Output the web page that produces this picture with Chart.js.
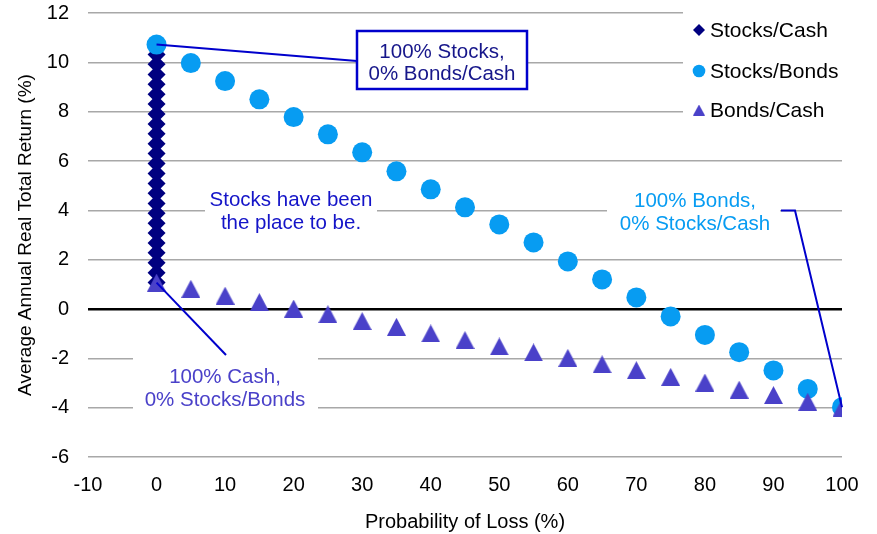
<!DOCTYPE html>
<html>
<head>
<meta charset="utf-8">
<script src="https://cdn.jsdelivr.net/npm/chart.js@4.4.1/dist/chart.umd.min.js"></script>
<style>
  html, body { margin: 0; padding: 0; background: #fff; }
  #wrap { width: 877px; height: 534px; }
</style>
</head>
<body>
<div id="wrap"><canvas id="chart" width="877" height="534"></canvas></div>
<script>
// Probability of loss (%) for each mix in the Stocks/Bonds and Bonds/Cash frontiers
const lossProbability = [0, 5, 10, 15, 20, 25, 30, 35, 40, 45, 50, 55, 60, 65, 70, 75, 80, 85, 90, 95, 100];

// Average annual real total return (%)
const stocksBondsReturn = [10.72, 9.97, 9.24, 8.50, 7.78, 7.08, 6.35, 5.58, 4.85, 4.12, 3.43,
                           2.70, 1.93, 1.20, 0.47, -0.30, -1.05, -1.75, -2.49, -3.24, -3.98];
const bondsCashReturn = [1.07, 0.82, 0.54, 0.28, 0.02, -0.21, -0.49, -0.72, -0.99, -1.26, -1.52,
                         -1.76, -1.98, -2.24, -2.48, -2.75, -2.98, -3.27, -3.49, -3.76, -4.00];

// Stocks/Cash mixes never lost money: every mix sits at 0% probability of loss
const stocksCashLoss = [0, 0, 0, 0, 0, 0, 0, 0, 0, 0, 0, 0, 0, 0, 0, 0, 0, 0, 0, 0, 0, 0, 0, 0, 0];
const stocksCashReturn = [1.07, 1.47, 1.87, 2.28, 2.68, 3.08, 3.48, 3.88, 4.28, 4.69, 5.09, 5.49, 5.90,
                          6.30, 6.70, 7.10, 7.50, 7.91, 8.31, 8.71, 9.11, 9.51, 9.92, 10.32, 10.72];

// Axis ticks
const xTickValues = [-10, 0, 10, 20, 30, 40, 50, 60, 70, 80, 90, 100];
const yTickValues = [-6, -4, -2, 0, 2, 4, 6, 8, 10, 12];

const seriesNames = ['Stocks/Cash', 'Stocks/Bonds', 'Bonds/Cash'];

const FONT = "'Liberation Sans', Arial, sans-serif";
const NAVY = '#000080';
const AZURE = '#079CF2';
const INDIGO = '#4A41C9';
const LEADER = '#0000CC';

// Triangle marker drawn on its own canvas so the glyph is centred on its bounding box
function triangleMarker(w, h, color) {
  const c = document.createElement('canvas');
  c.width = w; c.height = h;
  const g = c.getContext('2d');
  g.fillStyle = color;
  g.beginPath();
  g.moveTo(w / 2, 0);
  g.lineTo(w, h);
  g.lineTo(0, h);
  g.closePath();
  g.fill();
  return c;
}
const bigTriangle = triangleMarker(19, 18, INDIGO);
const smallTriangle = triangleMarker(12, 11, INDIGO);

const toPoints = (xs, ys) => ys.map((y, i) => ({ x: xs[i], y }));

// Legend block in the upper right of the plot
const cornerLegend = {
  id: 'cornerLegend',
  afterDatasetsDraw(chart) {
    const ctx = chart.ctx;
    ctx.save();
    ctx.fillStyle = '#fff';
    ctx.fillRect(683, 0, 194, 132);
    const rows = [30, 71, 110];
    const mx = 699;
    chart.data.datasets.forEach((ds, i) => {
      const y = rows[i];
      ctx.fillStyle = ds.backgroundColor;
      if (i === 0) {
        ctx.beginPath();
        ctx.moveTo(mx, y - 6); ctx.lineTo(mx + 6, y); ctx.lineTo(mx, y + 6); ctx.lineTo(mx - 6, y);
        ctx.closePath(); ctx.fill();
      } else if (i === 1) {
        ctx.beginPath(); ctx.arc(mx, y, 6.3, 0, Math.PI * 2); ctx.fill();
      } else {
        ctx.drawImage(smallTriangle, mx - 6, y - 5.5);
      }
      ctx.fillStyle = '#000';
      ctx.font = `21px ${FONT}`;
      ctx.textAlign = 'left';
      ctx.textBaseline = 'middle';
      ctx.fillText(ds.label, 710, y + 1);
    });
    ctx.restore();
  }
};

// Call-out labels and their leader lines
const callouts = {
  id: 'callouts',
  afterDatasetsDraw(chart) {
    const { ctx, scales: { x, y } } = chart;
    const px = v => x.getPixelForValue(v);
    const py = v => y.getPixelForValue(v);
    const last = lossProbability.length - 1;

    ctx.save();
    ctx.font = `20.5px ${FONT}`;
    ctx.textAlign = 'center';
    ctx.textBaseline = 'middle';

    // white panels that sit over the gridlines
    ctx.fillStyle = '#fff';
    ctx.fillRect(205, 182, 172, 52);
    ctx.fillRect(607, 184, 173, 52);
    ctx.fillRect(133, 352, 185, 62);

    // leader lines
    ctx.strokeStyle = LEADER;
    ctx.lineWidth = 2;
    ctx.beginPath();
    ctx.moveTo(px(lossProbability[0]), py(stocksBondsReturn[0]));
    ctx.lineTo(357, 61);
    ctx.stroke();

    ctx.beginPath();
    ctx.moveTo(px(lossProbability[0]), py(bondsCashReturn[0]));
    ctx.lineTo(226, 355);
    ctx.stroke();

    ctx.beginPath();
    ctx.moveTo(781, 210.5);
    ctx.lineTo(795, 210.5);
    ctx.lineTo(px(lossProbability[last]), py(stocksBondsReturn[last]));
    ctx.stroke();

    // boxed label for the all-stock portfolio
    ctx.fillStyle = '#fff';
    ctx.fillRect(357, 31, 170, 58);
    ctx.lineWidth = 2.5;
    ctx.strokeRect(357, 31, 170, 58);
    ctx.fillStyle = '#16168A';
    ctx.fillText('100% Stocks,', 442, 52);
    ctx.fillText('0% Bonds/Cash', 442, 74);

    ctx.fillStyle = '#1414C8';
    ctx.fillText('Stocks have been', 291, 200);
    ctx.fillText('the place to be.', 291, 223);

    ctx.fillStyle = AZURE;
    ctx.fillText('100% Bonds,', 695, 201);
    ctx.fillText('0% Stocks/Cash', 695, 224);

    ctx.fillStyle = INDIGO;
    ctx.fillText('100% Cash,', 225, 377);
    ctx.fillText('0% Stocks/Bonds', 225, 400);
    ctx.restore();
  }
};

new Chart(document.getElementById('chart'), {
  type: 'scatter',
  data: {
    datasets: [
      {
        label: seriesNames[0],
        data: toPoints(stocksCashLoss, stocksCashReturn),
        pointStyle: 'rectRot',
        pointRadius: 9,
        backgroundColor: NAVY,
        borderWidth: 0,
        order: 3
      },
      {
        label: seriesNames[1],
        data: toPoints(lossProbability, stocksBondsReturn),
        pointStyle: 'circle',
        pointRadius: 10,
        backgroundColor: AZURE,
        borderWidth: 0,
        order: 2
      },
      {
        label: seriesNames[2],
        data: toPoints(lossProbability, bondsCashReturn),
        pointStyle: bigTriangle,
        pointRadius: 9,
        backgroundColor: INDIGO,
        borderWidth: 0,
        order: 1
      }
    ]
  },
  options: {
    responsive: false,
    animation: false,
    devicePixelRatio: 1,
    events: [],
    layout: { padding: { left: 0, right: 35, top: 13, bottom: 0 } },
    plugins: { legend: { display: false }, tooltip: { enabled: false } },
    scales: {
      x: {
        type: 'linear',
        min: -10,
        max: 100,
        afterBuildTicks: s => { s.ticks = xTickValues.map(v => ({ value: v })); },
        afterFit: s => { s.height = 77; s.paddingLeft = 0; s.paddingRight = 0; },
        border: { display: false },
        grid: { display: false, drawTicks: false },
        ticks: { color: '#000', padding: 16, font: { family: FONT, size: 20 }, maxRotation: 0 },
        title: {
          display: true,
          text: 'Probability of Loss (%)',
          color: '#000',
          font: { family: FONT, size: 20 },
          padding: { top: 0, bottom: 0 }
        }
      },
      y: {
        type: 'linear',
        min: -6,
        max: 12,
        afterBuildTicks: s => { s.ticks = yTickValues.map(v => ({ value: v })); },
        afterFit: s => { s.width = 88; s.paddingTop = 0; s.paddingBottom = 0; },
        border: { display: false },
        grid: {
          drawTicks: false,
          color: c => (c.tick && c.tick.value === 0 ? '#000' : '#A8A8A8'),
          lineWidth: c => (c.tick && c.tick.value === 0 ? 2.5 : 1.5)
        },
        ticks: { color: '#000', padding: 19, font: { family: FONT, size: 20 } },
        title: {
          display: true,
          text: 'Average Annual Real Total Return (%)',
          color: '#000',
          font: { family: FONT, size: 19 },
          padding: { top: 14, bottom: 0 }
        }
      }
    }
  },
  plugins: [callouts, cornerLegend]
});
</script>
</body>
</html>
